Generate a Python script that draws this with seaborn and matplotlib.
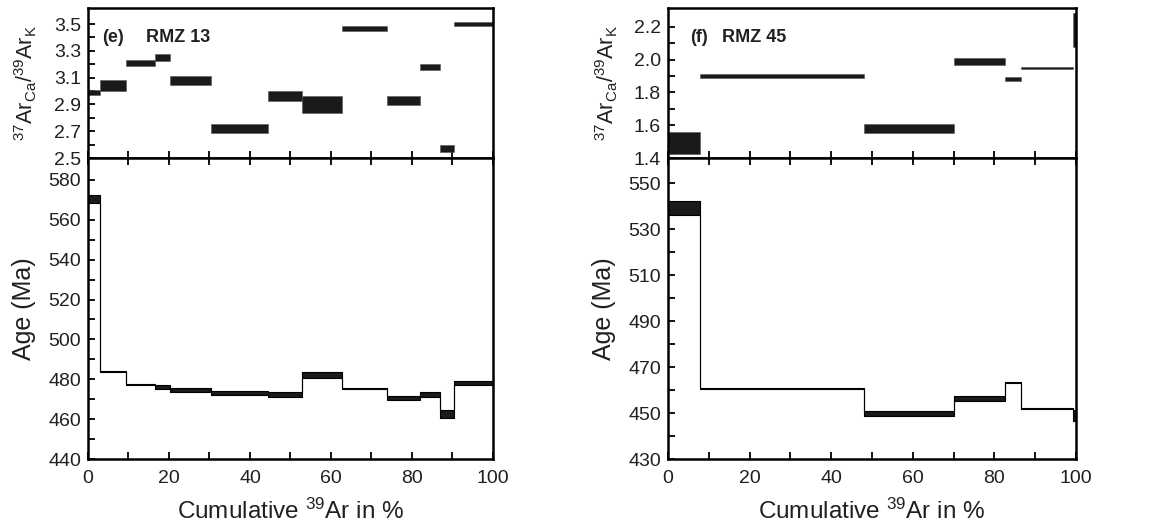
import numpy as np
import pandas as pd
import matplotlib
matplotlib.use('Agg')
import matplotlib.pyplot as plt
import seaborn as sns
from matplotlib.ticker import FixedLocator

# ---------------- data ----------------
# (e) RMZ 13
edges_e = [0, 2.9, 9.5, 16.5, 20.2, 30.3, 44.5, 52.8, 62.7, 73.8, 81.9, 87.0, 90.3, 100]
cak_e = [2.99, 3.04, 3.21, 3.25, 3.08, 2.72, 2.96, 2.90, 3.47, 2.93, 3.18, 2.57, 3.50]
cak_err_e = [0.02, 0.04, 0.025, 0.027, 0.035, 0.032, 0.037, 0.065, 0.019, 0.031, 0.025, 0.028, 0.016]
age_e = [570.4, 484.0, 477.3, 476.1, 474.6, 473.0, 472.2, 482.0, 475.3, 470.7, 472.2, 462.6, 478.2]
age_err_e = [1.8, 0.4, 0.4, 1.1, 1.2, 1.1, 1.2, 1.4, 0.4, 1.0, 1.2, 2.0, 1.0]

# (f) RMZ 45
edges_f = [0, 7.9, 48.0, 70.1, 82.6, 86.4, 99.3, 100]
cak_f = [1.49, 1.90, 1.58, 1.99, 1.88, 1.95, 2.18]
cak_err_f = [0.067, 0.01, 0.03, 0.022, 0.012, 0.006, 0.103]
age_f = [539.1, 460.8, 449.8, 456.5, 463.3, 451.9, 448.9]
age_err_f = [3.1, 0.3, 0.9, 1.1, 0.3, 0.3, 2.5]

# tick labels
x_major = [0, 20, 40, 60, 80, 100]
x_minor = [10, 30, 50, 70, 90]
cak_ticks_e = [2.5, 2.7, 2.9, 3.1, 3.3, 3.5]
cak_minor_e = [2.6, 2.8, 3.0, 3.2, 3.4]
age_ticks_e = [440, 460, 480, 500, 520, 540, 560, 580]
age_minor_e = [450, 470, 490, 510, 530, 550, 570]
cak_ticks_f = [1.4, 1.6, 1.8, 2.0, 2.2]
cak_minor_f = [1.5, 1.7, 1.9, 2.1]
age_ticks_f = [430, 450, 470, 490, 510, 530, 550]
age_minor_f = [440, 460, 480, 500, 520, 540]

panels = [
    dict(tag='(e)', name='RMZ 13', edges=edges_e, cak=cak_e, cak_err=cak_err_e,
         age=age_e, age_err=age_err_e, cak_ticks=cak_ticks_e, cak_minor=cak_minor_e,
         age_ticks=age_ticks_e, age_minor=age_minor_e),
    dict(tag='(f)', name='RMZ 45', edges=edges_f, cak=cak_f, cak_err=cak_err_f,
         age=age_f, age_err=age_err_f, cak_ticks=cak_ticks_f, cak_minor=cak_minor_f,
         age_ticks=age_ticks_f, age_minor=age_minor_f),
]

# ---------------- style ----------------
sns.set_theme(style='ticks')
plt.rcParams['font.family'] = ['Liberation Sans', 'DejaVu Sans']
plt.rcParams['mathtext.fontset'] = 'custom'
plt.rcParams['mathtext.rm'] = 'Liberation Sans'
plt.rcParams['mathtext.default'] = 'regular'

TXT = '#231f20'
BOX = '#1a1a1a'

fig = plt.figure(figsize=(11.56, 5.32), dpi=100)

layout = [
    dict(left=0.0761, width=0.3503, top_lim=(2.5, 3.62), bot_lim=(440, 591),
         tag_x=0.035, name_x=0.143, top_lab=-0.12, bot_lab=-0.128),
    dict(left=0.5779, width=0.3529, top_lim=(1.4, 2.316), bot_lim=(430, 561),
         tag_x=0.054, name_x=0.132, top_lab=-0.119, bot_lab=-0.127),
]

for p, L in zip(panels, layout):
    ax_t = fig.add_axes([L['left'], 0.703, L['width'], 0.282])
    ax_b = fig.add_axes([L['left'], 0.1372, L['width'], 0.5658])

    edges = np.array(p['edges'])
    widths = np.diff(edges)
    cak = np.array(p['cak']); cak_err = np.array(p['cak_err'])
    age = np.array(p['age']); age_err = np.array(p['age_err'])

    # top panel: Ca/K boxes
    ax_t.bar(edges[:-1], 2 * cak_err, width=widths, bottom=cak - cak_err,
             align='edge', color=BOX, edgecolor='#555555', linewidth=0.4)

    # bottom panel: age spectrum
    lo = np.append(age - age_err, (age - age_err)[-1])
    hi = np.append(age + age_err, (age + age_err)[-1])
    ax_b.fill_between(edges, lo, hi, step='post', color=BOX, linewidth=0)
    df = pd.DataFrame({'x': np.concatenate([edges, edges]),
                       'y': np.concatenate([hi, lo]),
                       'bound': ['hi'] * len(edges) + ['lo'] * len(edges)})
    sns.lineplot(data=df, x='x', y='y', units='bound', estimator=None,
                 drawstyle='steps-post', color='black', linewidth=0.8,
                 ax=ax_b, legend=False)

    for ax in (ax_t, ax_b):
        ax.set_xlim(0, 100)
        ax.xaxis.set_major_locator(FixedLocator(x_major))
        ax.xaxis.set_minor_locator(FixedLocator(x_minor))
        for s in ax.spines.values():
            s.set_linewidth(1.8)
            s.set_color('black')
        ax.tick_params(which='both', direction='in', length=5, width=1.3,
                       color='black', labelsize=14, labelcolor=TXT)

    ax_t.set_ylim(*L['top_lim'])
    ax_t.yaxis.set_major_locator(FixedLocator(p['cak_ticks']))
    ax_t.yaxis.set_minor_locator(FixedLocator(p['cak_minor']))
    ax_t.set_yticklabels([f'{v:.1f}' for v in p['cak_ticks']])
    ax_t.tick_params(axis='x', which='both', labelbottom=False, bottom=True)
    ax_t.tick_params(axis='y', pad=5)
    ax_t.set_xlabel('')
    ax_t.set_ylabel(r'$^{37}$Ar$_{Ca}$/$^{39}$Ar$_{K}$', fontsize=15.5, color=TXT)
    ax_t.yaxis.set_label_coords(L['top_lab'], 0.5)
    ax_t.text(L['tag_x'], 0.8, p['tag'], transform=ax_t.transAxes, fontsize=13,
              fontweight='bold', color=TXT, va='center', ha='left')
    ax_t.text(L['name_x'], 0.8, p['name'], transform=ax_t.transAxes, fontsize=13,
              fontweight='bold', color=TXT, va='center', ha='left')

    ax_b.set_ylim(*L['bot_lim'])
    ax_b.yaxis.set_major_locator(FixedLocator(p['age_ticks']))
    ax_b.yaxis.set_minor_locator(FixedLocator(p['age_minor']))
    ax_b.tick_params(axis='x', which='both', top=True, pad=8)
    ax_b.tick_params(axis='y', pad=5)
    ax_b.set_ylabel('Age (Ma)', fontsize=18, color=TXT)
    ax_b.yaxis.set_label_coords(L['bot_lab'], 0.5)
    ax_b.set_xlabel(r'Cumulative $^{39}$Ar in %', fontsize=17.5, color=TXT, labelpad=8)

fig.savefig('out.png', dpi=100)
